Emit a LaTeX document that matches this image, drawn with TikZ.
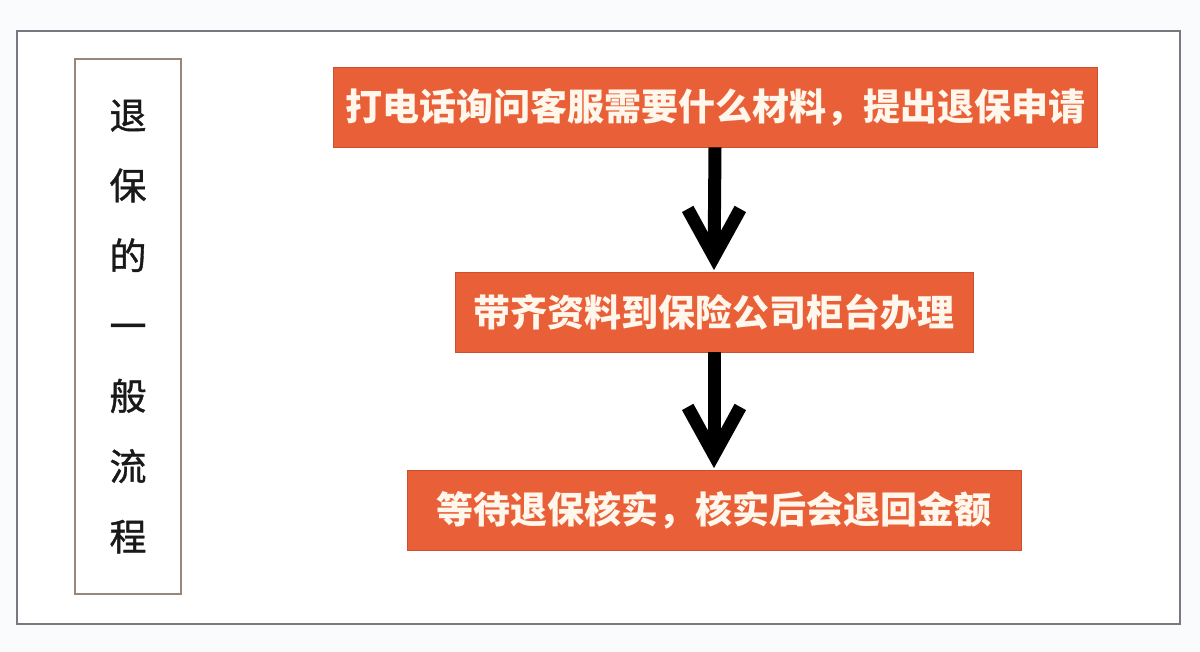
\documentclass[tikz,border=0pt]{standalone}
\usepackage{fontspec}
\newfontfamily\cjk{Noto Sans CJK SC}
\newfontfamily\cjkmid{Noto Sans CJK SC}[FakeBold=1.0]
\definecolor{bgcol}{RGB}{250,251,253}
\definecolor{framecol}{RGB}{120,120,128}
\definecolor{leftcol}{RGB}{150,135,125}
\definecolor{boxorange}{RGB}{233,96,56}
\definecolor{boxedge}{RGB}{205,80,45}
\definecolor{txtcol}{RGB}{255,246,236}
\tikzset{
  stepbox/.style={rectangle, fill=boxorange, draw=boxedge, line width=0.8pt,
    minimum height=80pt, inner sep=0pt, text=txtcol,
    font=\cjk\bfseries\fontsize{37pt}{40pt}\selectfont},
  titlebox/.style={rectangle, draw=leftcol, line width=1.2pt, fill=white,
    minimum width=106pt, minimum height=535pt, inner sep=0pt, align=center,
    font=\cjkmid\fontsize{37pt}{70.2pt}\selectfont, text=black!90},
  shaft/.style={line width=13pt, black, shorten >=25pt},
  headpic/.pic={\fill[black] (0,0) -- (-32,-58) -- (-20.6,-64.3) -- (-6.5,-38.5)
     -- (6.5,-38.5) -- (20.6,-64.3) -- (32,-58) -- cycle;}
}
\begin{document}
\begin{tikzpicture}[x=1pt,y=-1pt]
\useasboundingbox (0,0) rectangle (1200,652);
\fill[bgcol] (0,0) rectangle (1200,652);
\node[rectangle, draw=framecol, line width=1.5pt, fill=white, minimum width=1163pt,
  minimum height=593pt, inner sep=0pt] (frame) at (598.5,327.5) {};
\node[titlebox] (title) at (128,326.5) {退\\保\\的\\一\\般\\流\\程};
\node[stepbox, minimum width=764pt] (b1) at (715,107) {打电话询问客服需要什么材料，提出退保申请};
\node[stepbox, minimum width=518pt] (b2) at (714,312) {带齐资料到保险公司柜台办理};
\node[stepbox, minimum width=614pt] (b3) at (714,510) {等待退保核实，核实后会退回金额};
\draw[shaft] (b1.south) -- ([yshift=1.5pt]b2.north);
\pic at ([yshift=1.5pt]b2.north) {headpic};
\draw[shaft] (b2.south) -- ([yshift=1.5pt]b3.north);
\pic at ([yshift=1.5pt]b3.north) {headpic};
\end{tikzpicture}
\end{document}
